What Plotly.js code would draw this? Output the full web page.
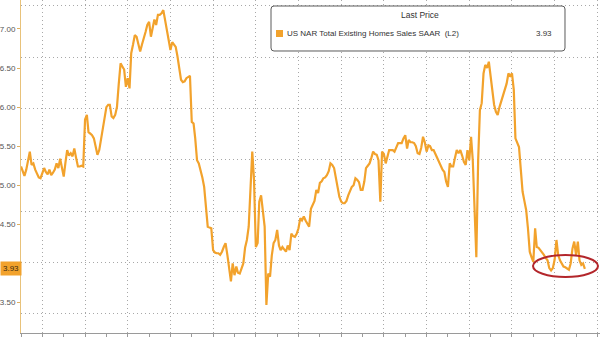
<!DOCTYPE html>
<html><head><meta charset="utf-8">
<script src="https://cdn.plot.ly/plotly-3.0.1.min.js"></script>
<style>html,body{margin:0;padding:0;background:#fff}#chart{width:600px;height:337px}</style>
</head><body><div id="chart"></div>
<script>
// US NAR Total Existing Homes Sales SAAR (millions), monthly
const startYear = 1999;
const s1999 = [5.24, 5.18, 5.12, 5.20, 5.30, 5.43, 5.26, 5.28, 5.20, 5.15, 5.10, 5.09];
const s2000 = [5.15, 5.22, 5.17, 5.14, 5.20, 5.13, 5.16, 5.20, 5.28, 5.22, 5.34, 5.20];
const s2001 = [5.11, 5.30, 5.45, 5.38, 5.41, 5.37, 5.47, 5.35, 5.24, 5.24, 5.25, 5.24];
const s2002 = [5.84, 5.90, 5.68, 5.66, 5.64, 5.60, 5.48, 5.39, 5.45, 5.58, 5.70, 5.85];
const s2003 = [6.00, 6.03, 6.03, 5.88, 5.86, 5.90, 6.00, 6.30, 6.56, 6.52, 6.48, 6.26];
const s2004 = [6.37, 6.24, 6.69, 6.80, 6.92, 6.90, 6.80, 6.71, 6.80, 6.90, 6.96, 7.05];
const s2005 = [7.09, 6.90, 7.00, 7.12, 7.05, 7.18, 7.18, 7.20, 7.24, 7.12, 7.00, 6.86];
const s2006 = [6.73, 6.83, 6.80, 6.77, 6.65, 6.50, 6.35, 6.32, 6.33, 6.37, 6.38, 6.40];
const s2007 = [5.81, 5.79, 5.60, 5.32, 5.28, 5.20, 5.10, 4.98, 4.70, 4.47, 4.46, 4.45];
const s2008 = [4.17, 4.14, 4.13, 4.13, 4.11, 4.15, 4.21, 4.26, 4.11, 3.90, 3.77, 4.00];
const s2009 = [3.85, 3.96, 3.88, 3.87, 3.95, 4.00, 4.20, 4.30, 4.47, 4.94, 5.43, 5.07];
const s2010 = [4.21, 4.26, 4.79, 4.87, 4.70, 4.47, 3.47, 3.87, 3.83, 4.10, 4.26, 4.30];
const s2011 = [4.43, 4.23, 4.17, 4.21, 4.18, 4.15, 4.23, 4.17, 4.38, 4.35, 4.34, 4.38];
const s2012 = [4.45, 4.58, 4.55, 4.60, 4.55, 4.51, 4.47, 4.70, 4.75, 4.80, 4.94, 4.90];
const s2013 = [5.03, 5.05, 5.09, 5.10, 5.13, 5.18, 5.28, 5.26, 5.22, 5.10, 4.96, 4.85];
const s2014 = [4.79, 4.77, 4.77, 4.80, 4.87, 4.94, 4.98, 5.00, 5.09, 5.07, 5.04, 4.94];
const s2015 = [4.94, 5.05, 5.22, 5.25, 5.28, 5.35, 5.43, 5.40, 5.39, 5.32, 4.79, 5.43];
const s2016 = [5.40, 5.28, 5.35, 5.45, 5.45, 5.45, 5.43, 5.48, 5.54, 5.54, 5.54, 5.60];
const s2017 = [5.64, 5.47, 5.58, 5.55, 5.55, 5.54, 5.50, 5.41, 5.40, 5.48, 5.62, 5.55];
const s2018 = [5.43, 5.51, 5.50, 5.45, 5.45, 5.40, 5.35, 5.32, 5.25, 5.20, 5.17, 5.05];
const s2019 = [4.98, 5.28, 5.24, 5.24, 5.35, 5.45, 5.41, 5.45, 5.38, 5.30, 5.26, 5.45];
const s2020 = [5.32, 5.62, 5.32, 4.77, 4.08, 5.32, 5.96, 6.05, 6.43, 6.54, 6.50, 6.58];
const s2021 = [6.40, 6.18, 6.03, 5.94, 5.90, 6.00, 6.07, 6.13, 6.22, 6.30, 6.43, 6.40];
const s2022 = [6.43, 6.22, 5.60, 5.55, 5.49, 5.20, 4.92, 4.80, 4.68, 4.45, 4.15, 4.08];
const s2023 = [4.02, 4.45, 4.21, 4.20, 4.17, 4.15, 4.11, 4.07, 4.04, 3.94, 3.91, 3.94];
const s2024 = [4.05, 4.30, 4.11, 4.04, 4.00, 3.96, 3.95, 3.94, 3.92, 4.00, 4.19, 4.28];
const s2025 = [4.11, 4.28, 4.04, 3.98, 4.00, 3.93];

const seriesName = "US NAR Total Existing Homes Sales SAAR\u00a0\u00a0(L2)";
const yTickVals = [3.5, 4.0, 4.5, 5.0, 5.5, 6.0, 6.5, 7.0];
// 4.00 sits under the last-price tag in the reference, so its label is left blank
const yTickText = ['3.50', '', '4.50', '5.00', '5.50', '6.00', '6.50', '7.00'];

const byYear = [s1999,s2000,s2001,s2002,s2003,s2004,s2005,s2006,s2007,s2008,s2009,s2010,s2011,
  s2012,s2013,s2014,s2015,s2016,s2017,s2018,s2019,s2020,s2021,s2022,s2023,s2024,s2025];
const dates = [], values = [];
byYear.forEach((arr, i) => {
  arr.forEach((v, m) => {
    dates.push((startYear + i) + '-' + String(m + 1).padStart(2, '0') + '-01');
    values.push(v);
  });
});
const last = values[values.length - 1];

const orange = '#f2a22c';
const W = 600, H = 337, ml = 21, mb = 4;
const pw = W - ml, ph = H - mb;
const px = x => (x - ml) / pw;
const py = y => (ph - y) / ph;

// rounded rectangle path in paper coordinates
function roundRect(x0, y0, x1, y1, r) {
  const X = v => px(v).toFixed(5), Y = v => py(v).toFixed(5);
  return 'M' + X(x0 + r) + ',' + Y(y0) + ' L' + X(x1 - r) + ',' + Y(y0) +
    ' Q' + X(x1) + ',' + Y(y0) + ' ' + X(x1) + ',' + Y(y0 + r) +
    ' L' + X(x1) + ',' + Y(y1 - r) + ' Q' + X(x1) + ',' + Y(y1) + ' ' + X(x1 - r) + ',' + Y(y1) +
    ' L' + X(x0 + r) + ',' + Y(y1) + ' Q' + X(x0) + ',' + Y(y1) + ' ' + X(x0) + ',' + Y(y1 - r) +
    ' L' + X(x0) + ',' + Y(y0 + r) + ' Q' + X(x0) + ',' + Y(y0) + ' ' + X(x0 + r) + ',' + Y(y0) + ' Z';
}

const traces = [
  {x: dates, y: values, type: 'scatter', mode: 'lines', line: {color: orange, width: 2.2},
   name: seriesName, showlegend: false, hoverinfo: 'skip'},
  {x: [], y: [], yaxis: 'y2', type: 'scatter', mode: 'lines', showlegend: false, hoverinfo: 'skip'}
];

const font = 'Liberation Sans, Arial, sans-serif';
const gridDash = '1px,3px';
const layout = {
  width: W, height: H,
  margin: {l: ml, r: 0, t: 0, b: mb, pad: 0},
  paper_bgcolor: '#fff', plot_bgcolor: '#fff',
  font: {family: font, size: 8, color: '#444'},
  showlegend: false,
  xaxis: {
    type: 'date', range: ['1999-01-01', '2026-02-15'],
    showline: true, linecolor: '#9a9a9a', linewidth: 1,
    tick0: '2000-01-01', dtick: 'M24', ticks: 'outside', ticklen: 4, tickcolor: '#9a9a9a',
    showticklabels: false,
    showgrid: true, gridcolor: '#a8a8a8', griddash: gridDash, gridwidth: 1,
    minor: {tick0: '1999-01-01', dtick: 'M12', ticks: 'outside', ticklen: 4, tickcolor: '#9a9a9a', showgrid: false},
    zeroline: false, fixedrange: true
  },
  yaxis: {
    range: [3.11, 7.37], tickvals: yTickVals, ticktext: yTickText,
    ticks: 'outside', ticklen: 3, tickcolor: '#e0b060',
    showline: true, linecolor: '#e8c27a', linewidth: 1,
    showgrid: false, zeroline: false,
    tickfont: {family: font, size: 8, color: '#555'}, fixedrange: true
  },
  yaxis2: {
    overlaying: 'y', side: 'left', range: [-0.37, 6.109], tick0: 0, dtick: 1,
    showgrid: true, gridcolor: '#a8a8a8', griddash: gridDash, gridwidth: 1,
    showticklabels: false, ticks: '', showline: false, zeroline: false, fixedrange: true
  },
  shapes: [
    {type: 'path', xref: 'paper', yref: 'paper', path: roundRect(271, 6, 565, 51, 3),
     fillcolor: '#fff', line: {color: '#5a5a5a', width: 1}, layer: 'above'},
    {type: 'rect', xref: 'paper', yref: 'paper', x0: px(276), x1: px(283), y0: py(37), y1: py(30),
     fillcolor: orange, line: {width: 0}, layer: 'above'},
    {type: 'circle', xref: 'paper', yref: 'paper', x0: px(533), x1: px(598), y0: py(277), y1: py(255),
     line: {color: '#b3262b', width: 2}, layer: 'above'}
  ],
  annotations: [
    {xref: 'paper', yref: 'paper', x: px(399), y: py(15), xanchor: 'left', yanchor: 'middle',
     text: 'Last Price', showarrow: false, font: {family: font, size: 8.5, color: '#333'}},
    {xref: 'paper', yref: 'paper', x: px(285), y: py(33.5), xanchor: 'left', yanchor: 'middle',
     text: seriesName, showarrow: false, font: {family: font, size: 8, color: '#333'}},
    {xref: 'paper', yref: 'paper', x: px(554), y: py(33.5), xanchor: 'right', yanchor: 'middle',
     text: last.toFixed(2), showarrow: false, font: {family: font, size: 8, color: '#333'}},
    {xref: 'paper', yref: 'y', x: px(0), y: last, xanchor: 'left', yanchor: 'middle',
     text: last.toFixed(2), showarrow: false, bgcolor: orange, borderpad: 2,
     font: {family: font, size: 8, color: '#3a2a10'}}
  ]
};

Plotly.newPlot('chart', traces, layout, {staticPlot: true, displayModeBar: false});
</script>
</body></html>
